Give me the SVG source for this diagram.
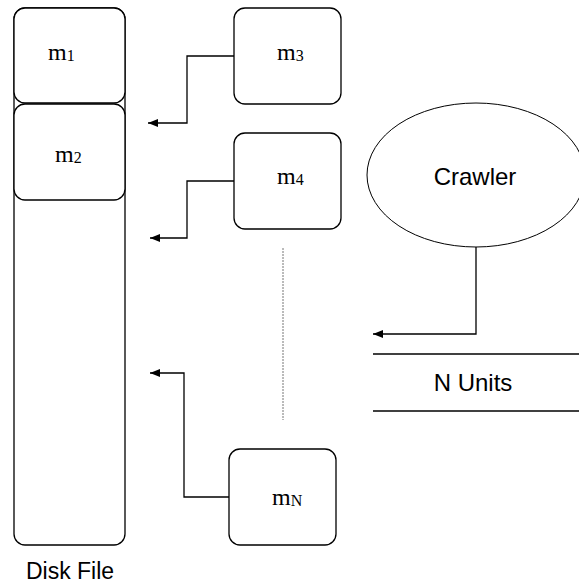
<svg xmlns="http://www.w3.org/2000/svg" width="579" height="584" viewBox="0 0 579 584">
<style>
.box{fill:#fff;stroke:#000;stroke-width:1.3}
.conn{fill:none;stroke:#000;stroke-width:1.3}
.m{font-family:"Liberation Serif",serif;font-size:24px;fill:#000}
.s{font-size:16px}
.a{font-family:"Liberation Sans",sans-serif;font-size:24px;fill:#000}
</style>
<defs>
<marker id="ah" markerWidth="10" markerHeight="8" refX="10" refY="4" orient="auto" markerUnits="userSpaceOnUse">
<path d="M0,0 L10,4 L0,8 Z" fill="#000"/>
</marker>
</defs>
<g id="diskfile">
<rect class="box" x="14" y="8" width="111" height="537" rx="11"/>
<text class="a" x="70" y="579" text-anchor="middle" style="font-size:23px">Disk File</text>
</g>
<g id="m1">
<rect class="box" x="14" y="8" width="111" height="95" rx="11"/>
<text class="m" x="48" y="60">m<tspan class="s" dy="1">1</tspan></text>
</g>
<g id="m2">
<rect class="box" x="14" y="104" width="111" height="96" rx="11"/>
<text class="m" x="55" y="162">m<tspan class="s" dy="1">2</tspan></text>
</g>
<g id="m3">
<rect class="box" x="234" y="8" width="107" height="96" rx="11"/>
<text class="m" x="277" y="60">m<tspan class="s" dy="1">3</tspan></text>
</g>
<g id="m4">
<rect class="box" x="234" y="133" width="107" height="96" rx="11"/>
<text class="m" x="277" y="184">m<tspan class="s" dy="1">4</tspan></text>
</g>
<g id="mN">
<rect class="box" x="229" y="449" width="107" height="96" rx="11"/>
<text class="m" x="272" y="505">m<tspan class="s" dy="1">N</tspan></text>
</g>
<g id="crawler">
<ellipse cx="476" cy="175" rx="109" ry="72" fill="#fff" stroke="#000" stroke-width="1"/>
<text class="a" x="475" y="185" text-anchor="middle">Crawler</text>
</g>
<g id="nunits">
<line x1="373" y1="354" x2="579" y2="354" stroke="#000" stroke-width="1.3"/>
<line x1="373" y1="411" x2="579" y2="411" stroke="#000" stroke-width="1.3"/>
<text class="a" x="473" y="391" text-anchor="middle">N Units</text>
</g>
<g id="connectors">
<polyline class="conn" points="234,56 187,56 187,123 148,123" marker-end="url(#ah)"/>
<polyline class="conn" points="234,181 187,181 187,238 150,238" marker-end="url(#ah)"/>
<polyline class="conn" points="229,497 184,497 184,373 150,373" marker-end="url(#ah)"/>
<polyline class="conn" points="476,247 476,334 373,334" marker-end="url(#ah)"/>
<line x1="283" y1="248" x2="283" y2="420" stroke="#777" stroke-width="1" stroke-dasharray="2,1"/>
</g>
</svg>
